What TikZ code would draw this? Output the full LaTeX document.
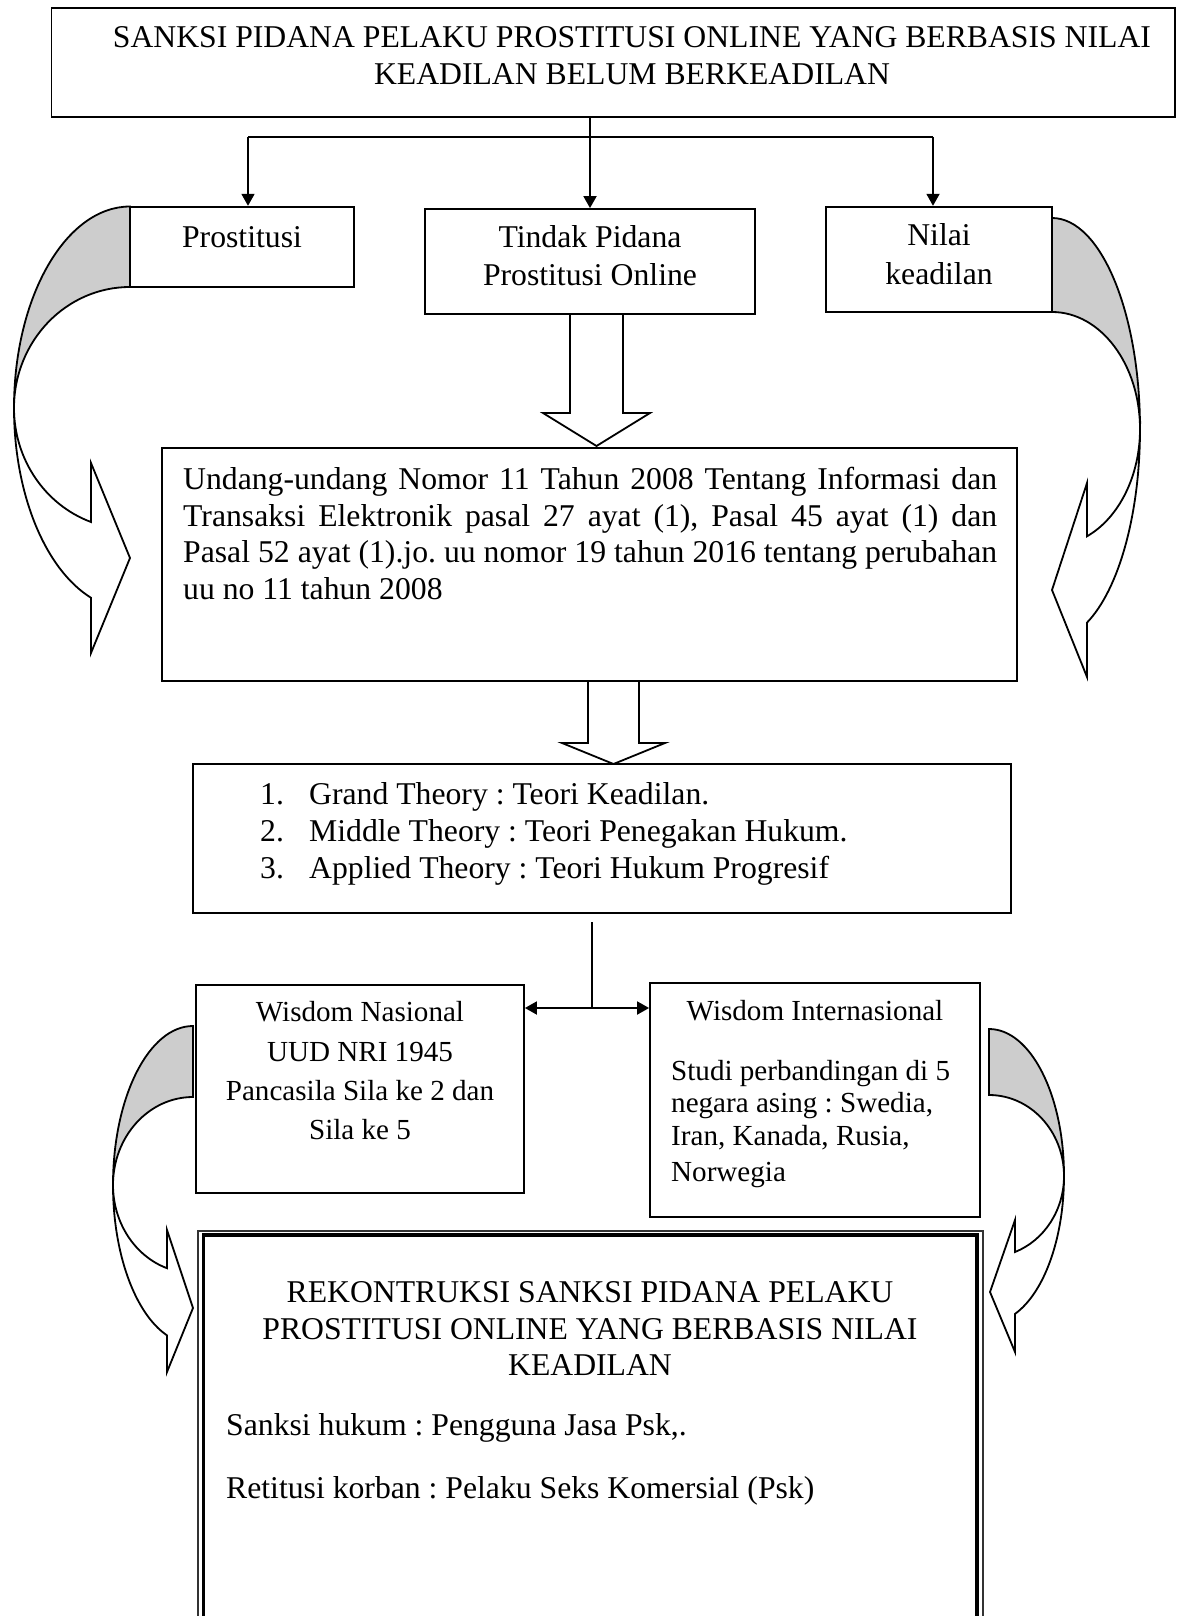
\documentclass[tikz,border=0pt]{standalone}
\usepackage{fontspec}
\setmainfont{Liberation Serif}
\usetikzlibrary{arrows.meta,fit}
\definecolor{bandgray}{RGB}{205,205,205}
\newcommand\Fbig{\fontsize{31.7}{36.5}\selectfont\frenchspacing}
\newcommand\Fsm{\fontsize{29.1}{33.5}\selectfont\frenchspacing}
\begin{document}
\begin{tikzpicture}[x=1pt,y=-1pt,line join=miter,
  frame/.style={draw,line width=1.8pt,fill=white,inner sep=0pt,rectangle},
  tline/.style={inner sep=0pt,anchor=base,font=\Fbig},
  tlinel/.style={inner sep=0pt,anchor=base west,font=\Fbig},
  sline/.style={inner sep=0pt,anchor=base,font=\Fsm},
  slinel/.style={inner sep=0pt,anchor=base west,font=\Fsm},
  cline/.style={line width=1.8pt},
  arrone/.style={-{Triangle[length=12pt,width=13pt]}},
  arrtwo/.style={{Triangle[length=12pt,width=13pt]}-{Triangle[length=12pt,width=13pt]}},
  grayband/.style={draw,line width=1.8pt,fill=bandgray},
  whitebody/.style={draw,line width=1.8pt,fill=white},
  hollow/.style={draw,line width=1.8pt,fill=white}]
\useasboundingbox (0,0) rectangle (1180,1616);
\clip (0,0) rectangle (1180,1616);
\fill[white] (0,0) rectangle (1180,1616);

% ---------- curved arrows ----------
% left upper
\path[grayband] (130,206.5) arc[start angle=270,end angle=180,x radius=116,y radius=201.5]
  arc[start angle=180,end angle=270,x radius=116,y radius=121] -- cycle;
\path[whitebody] (14,408) arc[start angle=180,end angle=109.65,x radius=116,y radius=201.5]
  -- (91,653) -- (130,558) -- (91,463) -- (91,522)
  arc[start angle=109.65,end angle=180,x radius=116,y radius=121] -- cycle;
% right upper
\path[grayband] (1052,218) arc[start angle=270,end angle=360,x radius=88,y radius=211]
  arc[start angle=0,end angle=-90,x radius=88,y radius=117] -- cycle;
\path[whitebody] (1140,429) arc[start angle=0,end angle=66.57,x radius=88,y radius=211]
  -- (1087,677) -- (1052,590) -- (1087,483) -- (1087,536.3)
  arc[start angle=66.57,end angle=0,x radius=88,y radius=117] -- cycle;
% left lower
\path[grayband] (193,1026) arc[start angle=270,end angle=180,x radius=80,y radius=159]
  arc[start angle=180,end angle=270,x radius=80,y radius=88] -- cycle;
\path[whitebody] (113,1185) arc[start angle=180,end angle=108.97,x radius=80,y radius=159]
  -- (167,1372) -- (193,1308) -- (167,1230) -- (167,1268.2)
  arc[start angle=108.97,end angle=180,x radius=80,y radius=88] -- cycle;
% right lower
\path[grayband] (989,1029) arc[start angle=270,end angle=360,x radius=75,y radius=147]
  arc[start angle=0,end angle=-90,x radius=75,y radius=81] -- cycle;
\path[whitebody] (1064,1176) arc[start angle=0,end angle=69.72,x radius=75,y radius=147]
  -- (1015,1352) -- (990,1292) -- (1015,1220) -- (1015,1252)
  arc[start angle=69.72,end angle=0,x radius=75,y radius=81] -- cycle;

% ---------- boxes ----------
\node[frame,fit={(51.5,8.2) (1175,117)}] (top) {};
\node[frame,fit={(130,206.7) (354,287.3)}] (prost) {};
\node[frame,fit={(425,209) (755,314)}] (tindak) {};
\node[frame,fit={(826,206.7) (1052,311.7)}] (nilai) {};
\node[frame,fit={(162,448) (1017,681)}] (undang) {};
\node[frame,fit={(193,764) (1011,913)}] (theory) {};
\node[frame,fit={(196,985) (524,1193)}] (wn) {};
\node[frame,fit={(650,983) (980,1217)}] (wi) {};
\node[draw=black!80,line width=2pt,inner sep=0pt,fit={(197.7,1231) (983,1660)}] (final) {};
\node[draw,line width=3.4pt,inner sep=0pt,fit={(203.7,1235) (977,1660)}] (finalin) {};

% ---------- texts ----------
\node[tline] (t1) at (632,47.7) {SANKSI PIDANA PELAKU PROSTITUSI ONLINE YANG BERBASIS NILAI};
\node[tline] (t2) at (632,84.2) {KEADILAN BELUM BERKEADILAN};
\node[tline] (p1) at (242,247) {Prostitusi};
\node[tline] (d1) at (590,247) {Tindak Pidana};
\node[tline] (d2) at (590,285.5) {Prostitusi Online};
\node[tline] (n1) at (939,245) {Nilai};
\node[tline] (n2) at (939,284.5) {keadilan};
\node[tlinel] (u1) at (183,489.5) {\makebox[814pt][s]{Undang-undang Nomor 11 Tahun 2008 Tentang Informasi dan}};
\node[tlinel] (u2) at (183,526) {\makebox[814pt][s]{Transaksi Elektronik pasal 27 ayat (1), Pasal 45 ayat (1) dan}};
\node[tlinel] (u3) at (183,562.5) {\makebox[814pt][s]{Pasal 52 ayat (1).jo. uu nomor 19 tahun 2016 tentang perubahan}};
\node[tlinel] (u4) at (183,599) {uu no 11 tahun 2008};
\node[tlinel] (k1) at (260,804) {1.};
\node[tlinel] (g1) at (309,804) {Grand Theory : Teori Keadilan.};
\node[tlinel] (k2) at (260,841) {2.};
\node[tlinel] (g2) at (309,841) {Middle Theory : Teori Penegakan Hukum.};
\node[tlinel] (k3) at (260,878.5) {3.};
\node[tlinel] (g3) at (309,878.5) {Applied Theory : Teori Hukum Progresif};
\node[sline] (w1) at (360,1021) {Wisdom Nasional};
\node[sline] (w2) at (360,1061) {UUD NRI 1945};
\node[sline] (w3) at (360,1100) {Pancasila Sila ke 2 dan};
\node[sline] (w4) at (360,1139) {Sila ke 5};
\node[sline] (i1) at (815,1020) {Wisdom Internasional};
\node[slinel] (i2) at (671,1080) {Studi perbandingan di 5};
\node[slinel] (i3) at (671,1112) {negara asing : Swedia,};
\node[slinel] (i4) at (671,1145) {Iran, Kanada, Rusia,};
\node[slinel] (i5) at (671,1181) {Norwegia};
\node[tline] (r1) at (590,1302.5) {REKONTRUKSI SANKSI PIDANA PELAKU};
\node[tline] (r2) at (590,1339) {PROSTITUSI ONLINE YANG BERBASIS NILAI};
\node[tline] (r3) at (590,1375.5) {KEADILAN};
\node[tlinel] (s1) at (226,1435) {Sanksi hukum : Pengguna Jasa Psk,.};
\node[tlinel] (s2) at (226,1498) {Retitusi korban : Pelaku Seks Komersial (Psk)};

% ---------- connectors ----------
\coordinate (hl) at (248,137);
\coordinate (hr) at (933,137);
\draw[cline,arrone] (top.south -| tindak.north) -- (tindak.north);
\draw[cline] (hl) -- (hr);
\draw[cline,arrone] (hl) -- (hl |- prost.north);
\draw[cline,arrone] (hr) -- (hr |- nilai.north);

% hollow block arrows
\path[hollow] (570,314) -- (570,413) -- (543,413) -- (596.5,446) -- (650,413) -- (623,413) -- (623,314) -- cycle;
\path[hollow] (588,681) -- (588,743) -- (562,743) -- (613.5,764) -- (665,743) -- (639,743) -- (639,681) -- cycle;

% theory to wisdom boxes
\coordinate (vt) at (592,922);
\coordinate (vj) at (592,1008);
\draw[cline] (vt) -- (vj);
\draw[cline,arrtwo] (wn.east |- vj) -- (wi.west |- vj);
\end{tikzpicture}
\end{document}
